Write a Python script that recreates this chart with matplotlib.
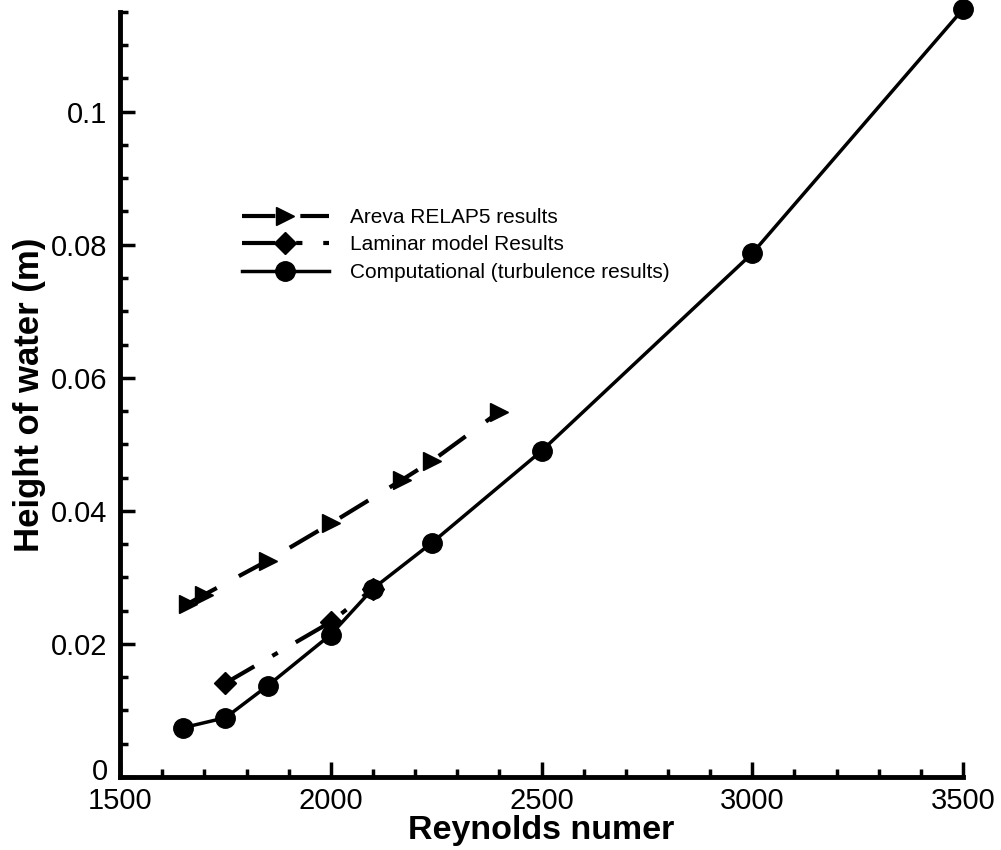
import numpy as np
import matplotlib.pyplot as plt
import matplotlib.transforms as mtransforms
from matplotlib.ticker import MultipleLocator

plt.rcParams['font.family'] = ['Liberation Sans', 'DejaVu Sans']

# Areva RELAP5 results
re_areva = [1660, 1700, 1850, 2000, 2170, 2240, 2400]
h_areva = [0.0260, 0.0274, 0.0325, 0.0381, 0.0447, 0.0475, 0.0549]

# Laminar model results
re_lam = [1750, 2000, 2100]
h_lam = [0.0141, 0.0233, 0.0283]

# Computational (turbulence results)
re_turb = [1650, 1750, 1850, 2000, 2100, 2240, 2500, 3000, 3500]
h_turb = [0.0074, 0.0089, 0.0137, 0.0214, 0.0283, 0.0352, 0.0490, 0.0787, 0.1154]

fig = plt.figure(figsize=(10.01, 8.5), dpi=100)
ax = fig.add_axes([0.12, 0.086, 0.842, 0.9])

ax.plot(re_areva, h_areva, color='black', lw=3, marker='>', ms=13,
        dashes=(8, 6), label='Areva RELAP5 results')
ax.plot(re_lam, h_lam, color='black', lw=3, marker='D', ms=11,
        dashes=(8, 5, 1.5, 5), label='Laminar model Results')
ax.plot(re_turb, h_turb, color='black', lw=2.5, marker='o', ms=14,
        label='Computational (turbulence results)', clip_on=False)

ax.set_xlim(1500, 3500)
ax.set_ylim(0, 0.115)
ax.xaxis.set_major_locator(MultipleLocator(500))
ax.xaxis.set_minor_locator(MultipleLocator(100))
ax.yaxis.set_minor_locator(MultipleLocator(0.005))
ax.set_yticks([0, 0.02, 0.04, 0.06, 0.08, 0.1])
ax.set_yticklabels(['0', '0.02', '0.04', '0.06', '0.08', '0.1'])

for s in ['top', 'right']:
    ax.spines[s].set_visible(False)
for s in ['left', 'bottom']:
    ax.spines[s].set_linewidth(3.5)

ax.tick_params(which='both', direction='in', width=2.5, labelsize=21)
ax.tick_params(which='major', length=11, pad=9)
ax.tick_params(axis='x', which='major', pad=7)
ax.tick_params(which='minor', length=6)

# lift the "0" label a little so it sits clear of "1500"
zero_lbl = ax.get_yticklabels()[0]
zero_lbl.set_transform(zero_lbl.get_transform() +
                       mtransforms.ScaledTranslation(0, 6 / 72, fig.dpi_scale_trans))

ax.set_xlabel('Reynolds numer', fontsize=24.5, fontweight='bold', labelpad=0)
ax.set_ylabel('Height of water (m)', fontsize=25, fontweight='bold', labelpad=4)

ax.legend(loc='upper left', bbox_to_anchor=(0.122, 0.768), frameon=False,
          fontsize=15, handlelength=4.2, handletextpad=1.0, labelspacing=0.4)

fig.savefig('out.png', dpi=100)
